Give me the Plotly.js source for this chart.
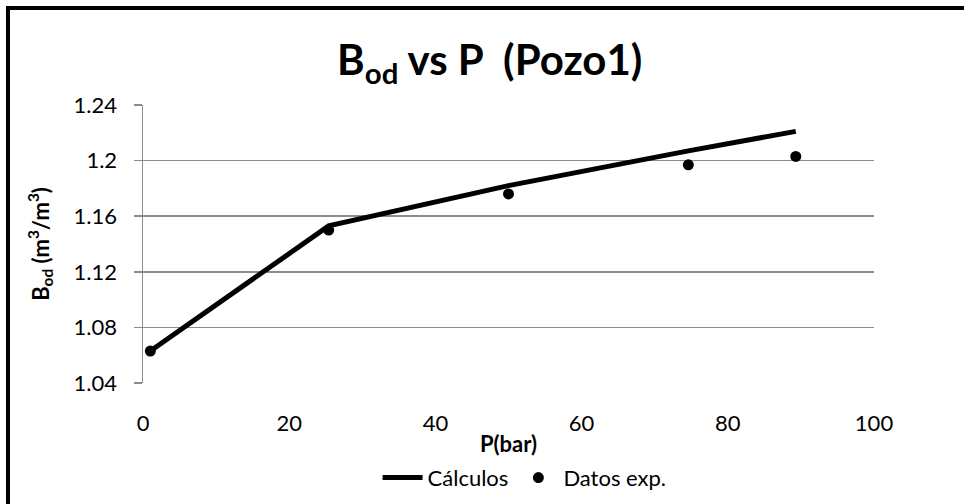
<!DOCTYPE html>
<html>
<head>
<meta charset="utf-8">
<script src="https://cdn.plot.ly/plotly-3.0.1.min.js"></script>
<style>html,body{margin:0;padding:0;background:#fff;}#chart{width:964px;height:504px;}</style>
</head>
<body>
<div id="chart"></div>
<script>
// Data
const calcP = [1, 25.4, 50, 74.6, 89.3];
const calcB = [1.063, 1.153, 1.182, 1.207, 1.221];
const expP = [1, 25.4, 50, 74.6, 89.3];
const expB = [1.063, 1.150, 1.176, 1.197, 1.203];
const yTicks = [1.04, 1.08, 1.12, 1.16, 1.2, 1.24];
const xTicks = [0, 20, 40, 60, 80, 100];

const FONT = 'Lato, "Open Sans", sans-serif';

const traces = [
  {
    x: calcP, y: calcB, name: 'Cálculos', type: 'scatter', mode: 'lines',
    line: {color: '#000', width: 5}
  },
  {
    x: expP, y: expB, name: 'Datos exp.', type: 'scatter', mode: 'markers',
    marker: {color: '#000', size: 11}
  }
];

const layout = {
  width: 964, height: 504,
  paper_bgcolor: '#fff', plot_bgcolor: '#fff',
  margin: {l: 143, r: 90, t: 105, b: 121},
  font: {family: FONT, color: '#000', size: 22},
  title: {
    text: '<b>B<sub>od</sub> vs P  (Pozo1)</b>',
    font: {family: FONT, size: 42, color: '#000'},
    x: 0.508, xref: 'container', xanchor: 'center',
    y: 0.88, yref: 'container', yanchor: 'middle'
  },
  xaxis: {
    range: [0, 100], tickvals: xTicks, ticktext: xTicks.map(String),
    showgrid: false, zeroline: false, showline: false, automargin: false,
    ticks: '', ticklabelstandoff: 25,
    tickfont: {family: FONT, size: 22},
    title: {text: '<b>P(bar)</b>', font: {family: FONT, size: 22}, standoff: 18}
  },
  yaxis: {
    range: [1.04, 1.24], tickvals: yTicks, ticktext: yTicks.map(String),
    showgrid: true, gridcolor: '#8c8c8c', gridwidth: 1.5, automargin: false,
    zeroline: false, showline: true, linecolor: '#8c8c8c', linewidth: 1.5,
    ticks: 'outside', ticklen: 8, tickcolor: '#8c8c8c', tickwidth: 1.5,
    ticklabelstandoff: 12,
    tickfont: {family: FONT, size: 22},
    title: {text: '<b>B<sub>od</sub> (m<sup>3</sup>/m<sup>3</sup>)</b>', font: {family: FONT, size: 22}, standoff: 18}
  },
  showlegend: true,
  legend: {
    orientation: 'h', x: 0.522, xanchor: 'center',
    yref: 'container', y: 0.052, yanchor: 'middle',
    font: {family: FONT, size: 22}, bgcolor: 'rgba(0,0,0,0)', itemwidth: 40
  },
  shapes: [
    {type: 'line', xref: 'paper', yref: 'paper', x0: -0.1847, x1: 1.2, y0: 1.349, y1: 1.349, line: {color: '#000', width: 4}},
    {type: 'line', xref: 'paper', yref: 'paper', x0: -0.1847, x1: -0.1847, y0: 1.356, y1: -0.5, line: {color: '#000', width: 4}}
  ]
};

Plotly.newPlot('chart', traces, layout, {displayModeBar: false, staticPlot: true});
</script>
</body>
</html>
